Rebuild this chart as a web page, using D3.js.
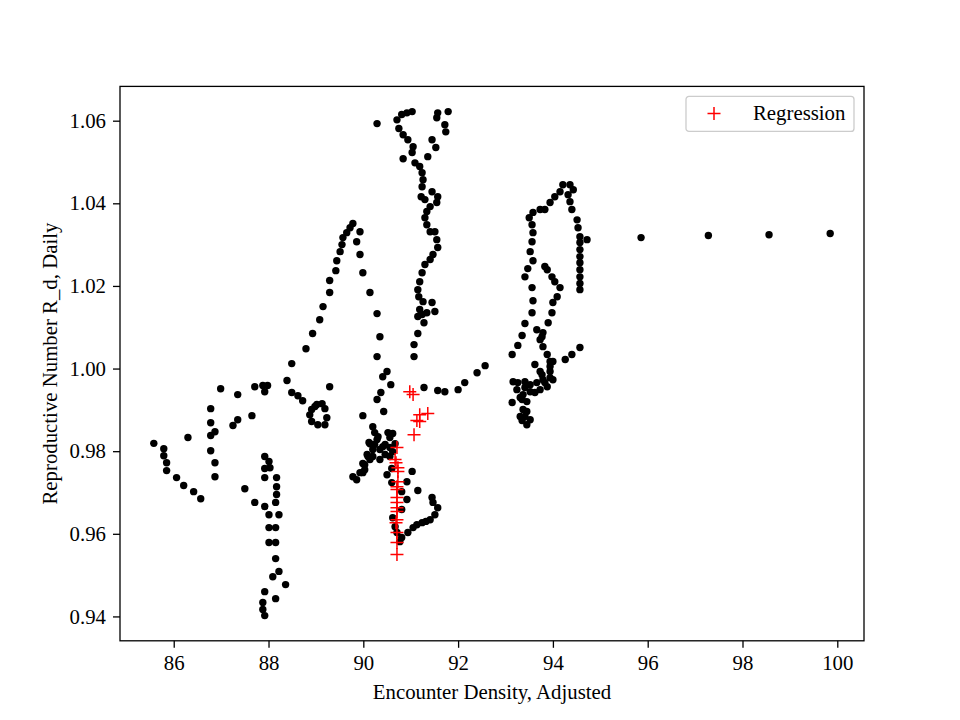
<!DOCTYPE html>
<html>
<head>
<meta charset="utf-8">
<script src="https://cdn.jsdelivr.net/npm/d3@7"></script>
<style>
  body { margin: 0; background: #fff; }
  text { font-family: "Liberation Serif", "Times New Roman", serif; }
</style>
</head>
<body>
<svg id="svgScatter" width="960" height="720"></svg>
<script>
// data: [encounter density, R_d daily]
var westLoop = [
  [85.58,0.9819],[85.79,0.9806],[85.79,0.9789],[85.85,0.9772],[85.85,0.9753],
  [86.06,0.9736],[86.21,0.9717],[86.42,0.9702],[86.57,0.9685],[86.30,0.9833],
  [86.78,0.9903],[86.78,0.9869],[86.87,0.9847],[86.78,0.9838],[86.78,0.9801],
  [86.87,0.9772],[86.87,0.9738],[86.99,0.9951],[87.35,0.9937],[87.35,0.9876],
  [87.25,0.9862],[87.65,0.9886],[87.50,0.9709],[87.71,0.9956],[87.88,0.9959],
  [87.98,0.9959],[87.92,0.9944]
];
var southColumn = [
  [87.92,0.9787],[88.01,0.9775],[87.92,0.9758],[88.03,0.9760],[87.92,0.9736],
  [88.17,0.9736],[88.17,0.9714],[88.17,0.9695],[88.15,0.9676],[87.71,0.9676],
  [87.92,0.9666],[88.01,0.9646],[88.22,0.9646],[88.01,0.9615],[88.15,0.9615],
  [88.01,0.9579],[88.15,0.9579],[88.15,0.9540],[88.22,0.9509],[88.09,0.9496],
  [88.36,0.9477],[87.92,0.9460],[88.15,0.9443],[87.88,0.9434],[87.88,0.9417],
  [87.92,0.9402]
];
var ringCluster = [
  [88.39,0.9971],[88.49,0.9942],[88.62,0.9934],[88.72,0.9922],[88.98,0.9908],
  [88.91,0.9901],[89.02,0.9913],[89.19,0.9903],[89.23,0.9881],[89.19,0.9864],
  [89.04,0.9864],[88.91,0.9872],[88.87,0.9888],[89.13,0.9915],[89.29,0.9956]
];
var peakArc = [
  [88.49,1.0012],[88.79,1.0048],[88.93,1.0085],[89.08,1.0118],[89.15,1.0150],
  [89.29,1.0184],[89.29,1.0213],[89.42,1.0237],[89.44,1.0261],[89.51,1.0283],
  [89.55,1.0300],[89.57,1.0317],[89.65,1.0329],[89.72,1.0341],[89.78,1.0351],
  [89.93,1.0331],[89.86,1.0307],[89.93,1.0276],[89.99,1.0232],[90.14,1.0184],
  [90.29,1.0133],[90.35,1.0077],[90.29,1.0029],[90.50,0.9993],[90.41,0.9980],
  [90.58,0.9961],[90.37,0.9942],[90.29,0.9925],[90.43,0.9896],[89.99,0.9886]
];
var centerCluster = [
  [90.20,0.9859],[90.24,0.9845],[90.52,0.9845],[90.62,0.9843],[90.56,0.9833],
  [90.29,0.9828],[90.14,0.9818],[90.46,0.9816],[90.67,0.9818],[90.20,0.9804],
  [90.35,0.9804],[90.08,0.9792],[90.20,0.9787],[90.35,0.9780],[90.56,0.9809],
  [90.62,0.9799],[90.56,0.9787],[90.60,0.9758],[90.50,0.9743],[90.60,0.9724],
  [89.99,0.9770],[90.03,0.9755],[89.93,0.9748],[89.78,0.9738],[89.86,0.9731],
  [89.99,0.9748],[90.03,0.9767],[90.10,0.9787],[90.12,0.9821],[91.03,0.9751],
  [90.92,0.9726],[90.81,0.9702],[91.15,0.9705],[90.92,0.9683],[90.81,0.9659],
  [90.62,0.9639],[90.67,0.9617],[90.71,0.9603],[90.81,0.9591],[90.77,0.9581],
  [90.94,0.9603],[91.05,0.9615],[91.13,0.9622],[91.24,0.9627],[91.32,0.9630],
  [91.41,0.9634],[91.51,0.9646],[91.57,0.9663],[91.45,0.9688],[91.47,0.9676],
  [90.31,0.9835],[90.41,0.9811],[90.46,0.9792],[90.24,0.9816],[90.14,0.9780]
];
var northColumn = [
  [90.29,1.0593],[90.71,1.0602],[90.81,1.0615],[90.92,1.0619],[91.03,1.0622],
  [90.75,1.0581],[90.84,1.0566],[90.94,1.0554],[91.05,1.0537],[91.03,1.0523],
  [90.84,1.0508],[91.09,1.0498],[91.19,1.0489],[91.24,1.0474],[91.26,1.0457],
  [91.24,1.0440],[91.22,1.0416],[91.45,1.0428],[91.57,1.0416],[91.55,1.0402],
  [91.41,1.0392],[91.30,1.0409],[91.34,1.0380],[91.30,1.0365],[91.34,1.0348],
  [91.41,1.0331],[91.51,1.0331],[91.55,1.0312],[91.57,1.0293],[91.47,1.0276],
  [91.41,1.0264],[91.30,1.0252],[91.24,1.0232],[91.19,1.0210],[91.15,1.0191],
  [91.17,1.0174],[91.26,1.0162],[91.19,1.0143],[91.34,1.0135],[91.45,1.0160],
  [91.51,1.0138],[91.24,1.0131],[91.15,1.0126],[91.28,1.0111],[91.15,1.0085],
  [91.07,1.0058],[91.07,1.0029],[91.57,1.0619],[91.79,1.0622],[91.55,1.0607],
  [91.72,1.0590],[91.74,1.0573],[91.45,1.0554],[91.53,1.0535],[91.36,1.0513]
];
var bridge = [
  [91.28,0.9954],[91.57,0.9947],[91.72,0.9944],[92.00,0.9949],[92.14,0.9966],
  [92.40,0.9990],[92.57,1.0007]
];
var eastCluster = [
  [93.14,1.0034],[93.26,1.0056],[93.35,1.0080],[93.41,1.0109],[93.56,1.0135],
  [93.58,1.0164],[93.56,1.0196],[93.41,1.0222],[93.47,1.0242],[93.58,1.0261],
  [93.52,1.0283],[93.56,1.0307],[93.58,1.0329],[93.56,1.0348],[93.50,1.0365],
  [93.58,1.0378],[93.73,1.0385],[93.83,1.0385],[93.94,1.0402],[94.04,1.0416],
  [94.15,1.0428],[94.21,1.0445],[94.36,1.0445],[94.43,1.0433],[94.32,1.0421],
  [94.36,1.0404],[94.40,1.0385],[94.51,1.0360],[94.53,1.0341],[94.57,1.0319],
  [94.72,1.0312],[94.57,1.0305],[94.57,1.0288],[94.57,1.0271],[94.57,1.0256],
  [94.57,1.0239],[94.57,1.0222],[94.57,1.0206],[94.57,1.0191],[93.83,1.0247],
  [93.88,1.0239],[93.98,1.0222],[94.04,1.0210],[94.15,1.0196],[94.09,1.0174],
  [94.00,1.0160],[93.98,1.0135],[93.90,1.0111],[93.79,1.0087],[93.73,1.0070],
  [93.79,1.0053],[93.88,1.0034],[93.94,1.0017],[94.00,1.0017],[94.26,1.0022],
  [94.40,1.0034],[94.57,1.0051],[93.66,1.0094],[93.77,1.0077],[93.94,1.0005],
  [93.62,1.0010],[93.73,0.9993],[93.94,0.9993],[94.00,0.9973],[93.79,0.9973],
  [93.66,0.9966],[93.77,0.9985],[93.16,0.9968],[93.26,0.9966],[93.41,0.9968],
  [93.41,0.9954],[93.52,0.9944],[93.37,0.9937],[93.35,0.9925],[93.14,0.9918],
  [93.45,0.9920],[93.37,0.9901],[93.31,0.9884],[93.41,0.9884],[93.52,0.9876],
  [93.45,0.9864],[93.88,0.9956],[93.73,0.9949],[93.62,0.9942],[93.94,0.9978],
  [93.24,0.9949],[93.31,0.9930],[93.45,0.9896],[93.35,0.9874],[93.52,0.9961],
  [93.83,0.9966]
];
var eastTail = [
  [95.86,1.0317],[97.28,1.0322],[98.56,1.0324],[99.85,1.0327]
];
var regression = [
  [90.98,0.9944],[91.05,0.9937],[91.19,0.9888],[91.36,0.9891],[91.13,0.9874],
  [91.19,0.9872],[91.07,0.9840],[90.71,0.9809],[90.67,0.9780],[90.69,0.9772],
  [90.73,0.9760],[90.73,0.9751],[90.73,0.9726],[90.71,0.9714],[90.71,0.9707],
  [90.71,0.9688],[90.71,0.9676],[90.71,0.9663],[90.71,0.9654],[90.71,0.9634],
  [90.69,0.9627],[90.71,0.9603],[90.71,0.9579],[90.71,0.9550]
];
var xTicks = [86, 88, 90, 92, 94, 96, 98, 100];
var yTicks = [0.94, 0.96, 0.98, 1.00, 1.02, 1.04, 1.06];

var daily = [].concat(westLoop, southColumn, ringCluster, peakArc,
  centerCluster, northColumn, bridge, eastCluster, eastTail);

var FONT = "20.8px";
var svg = d3.select("#svgScatter");
var margin = {top: 86.4, right: 96, bottom: 79.2, left: 120};
var width = +svg.attr("width") - margin.left - margin.right;
var height = +svg.attr("height") - margin.top - margin.bottom;
var g = svg.append("g")
    .attr("transform", "translate(" + margin.left + "," + margin.top + ")");

// matplotlib style 5% padding on the data range
var all = daily.concat(regression);
var xExt = d3.extent(all, function(d) { return d[0]; });
var yExt = d3.extent(all, function(d) { return d[1]; });
var xPad = (xExt[1] - xExt[0]) * 0.05;
var yPad = (yExt[1] - yExt[0]) * 0.05;

var x = d3.scaleLinear()
  .domain([xExt[0] - xPad, xExt[1] + xPad])
  .range([0, width]);
var y = d3.scaleLinear()
  .domain([yExt[0] - yPad, yExt[1] + yPad])
  .range([height, 0]);

// black dots
g.append("g").selectAll("circle")
  .data(daily)
  .enter().append("circle")
    .attr("cx", function(d) { return x(d[0]); })
    .attr("cy", function(d) { return y(d[1]); })
    .attr("r", 3.7)
    .attr("fill", "#000");

// red plus markers
var plusPath = "M-6.5,0H6.5M0,-6.5V6.5";
g.append("g").selectAll("path")
  .data(regression)
  .enter().append("path")
    .attr("transform", function(d) {
      return "translate(" + x(d[0]) + "," + y(d[1]) + ")";
    })
    .attr("d", plusPath)
    .attr("stroke", "#ff0000")
    .attr("stroke-width", 1.5)
    .attr("fill", "none");

// axes
var xAxis = d3.axisBottom(x).tickValues(xTicks).tickSize(7).tickPadding(7)
  .tickFormat(d3.format("d"));
var yAxis = d3.axisLeft(y).tickValues(yTicks).tickSize(7).tickPadding(7)
  .tickFormat(d3.format(".2f"));

var gx = g.append("g")
  .attr("transform", "translate(0," + height + ")")
  .call(xAxis);
var gy = g.append("g").call(yAxis);

[gx, gy].forEach(function(a) {
  a.select(".domain").remove();
  a.selectAll("line").attr("stroke", "#000").attr("stroke-width", 1.3);
  a.selectAll("text").attr("fill", "#000").style("font-size", FONT)
    .style("font-family", "'Liberation Serif', serif");
});

// frame
g.append("rect")
  .attr("width", width)
  .attr("height", height)
  .attr("fill", "none")
  .attr("stroke", "#000")
  .attr("stroke-width", 1.3);

// text label for the x axis
g.append("text")
  .attr("x", width / 2)
  .attr("y", height + 58)
  .style("text-anchor", "middle")
  .style("font-size", FONT)
  .text("Encounter Density, Adjusted");

// text label for the y axis
g.append("text")
  .attr("transform", "rotate(-90)")
  .attr("x", -height / 2)
  .attr("y", -63)
  .style("text-anchor", "middle")
  .style("font-size", FONT)
  .text("Reproductive Number R_d, Daily");

// legend
var legend = g.append("g")
  .attr("transform", "translate(" + (width - 178) + ",10)");
legend.append("rect")
  .attr("width", 168)
  .attr("height", 35)
  .attr("rx", 3)
  .attr("fill", "#fff")
  .attr("fill-opacity", 0.8)
  .attr("stroke", "#cccccc")
  .attr("stroke-width", 1.3);
legend.append("path")
  .attr("transform", "translate(28,17)")
  .attr("d", plusPath)
  .attr("stroke", "#ff0000")
  .attr("stroke-width", 1.5);
legend.append("text")
  .attr("x", 67)
  .attr("y", 23.5)
  .style("font-size", FONT)
  .text("Regression");
</script>
</body>
</html>
